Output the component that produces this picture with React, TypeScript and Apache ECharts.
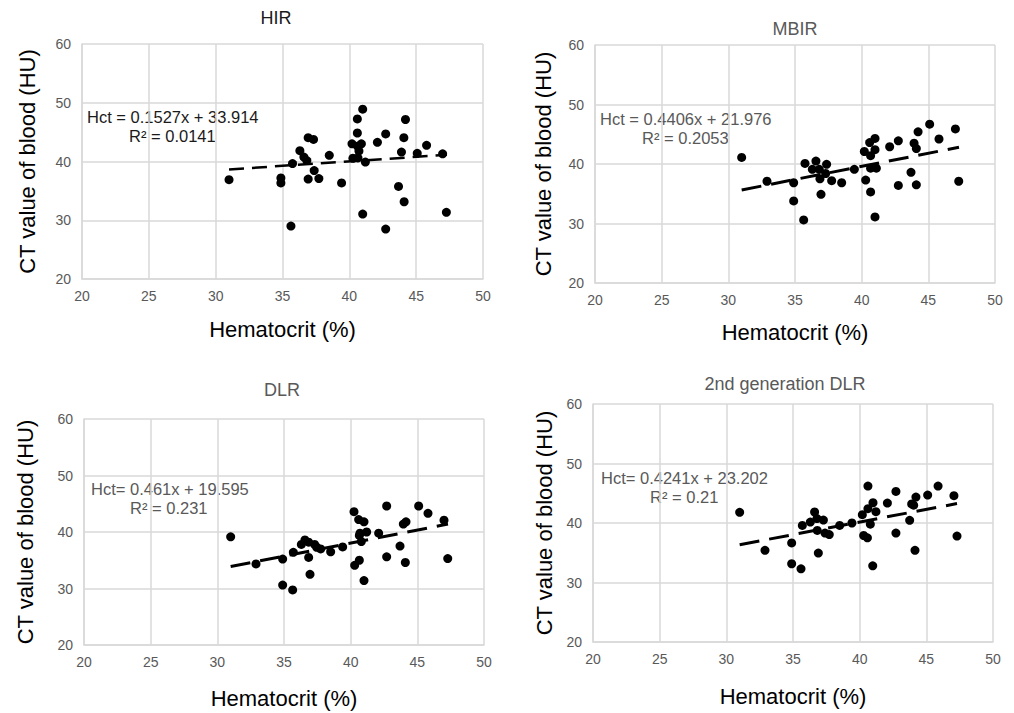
import React, { useEffect, useRef } from "react";
import * as echarts from "echarts";

const panelTitles = ["HIR", "MBIR", "DLR", "2nd generation DLR"];
const equationTexts = [
  "Hct = 0.1527x + 33.914",
  "Hct = 0.4406x + 21.976",
  "Hct= 0.461x + 19.595",
  "Hct= 0.4241x + 23.202",
];
const r2Texts = ["R² = 0.0141", "R² = 0.2053", "R² = 0.231", "R² = 0.21"];
const xAxisTitle = "Hematocrit (%)";
const yAxisTitle = "CT value of blood (HU)";
const xRange = [20, 50, 5];
const yRange = [20, 60, 10];

const hirPoints: [number, number][] = [
  [31.0, 36.9], [34.88, 37.2], [34.88, 36.35], [35.63, 29.0], [35.75, 39.65],
  [36.3, 41.85], [36.6, 40.75], [36.82, 40.15], [36.92, 44.05], [37.32, 43.75],
  [36.92, 37.0], [37.37, 38.45], [37.72, 37.1], [38.5, 41.05], [39.42, 36.35],
  [40.2, 43.0], [40.27, 40.55], [40.6, 47.25], [40.6, 44.85], [40.62, 42.6],
  [40.65, 40.6], [40.72, 41.8], [40.9, 43.0], [41.0, 48.9], [41.0, 31.05],
  [41.2, 39.9], [42.1, 43.27], [42.72, 44.7], [42.72, 28.5], [43.68, 35.75],
  [43.9, 41.6], [44.08, 44.05], [44.2, 47.15], [44.1, 33.15], [45.08, 41.4],
  [45.78, 42.75], [46.98, 41.3], [47.26, 31.35],
];
const mbirPoints: [number, number][] = [
  [31.0, 41.1], [32.9, 37.1], [34.9, 36.85], [34.9, 33.8], [35.65, 30.6],
  [35.75, 40.1], [36.3, 39.1], [36.57, 40.5], [36.82, 39.1], [36.87, 37.5],
  [36.95, 34.9], [37.3, 38.4], [37.37, 39.95], [37.75, 37.2], [38.5, 36.85],
  [39.45, 39.1], [40.2, 42.1], [40.3, 37.3], [40.6, 43.6], [40.67, 41.4],
  [40.67, 39.3], [40.67, 35.3], [41.0, 44.3], [41.0, 42.4], [41.1, 39.3],
  [41.0, 31.1], [42.1, 42.9], [42.75, 43.9], [42.75, 36.4], [43.7, 38.6],
  [43.93, 43.5], [44.1, 42.6], [44.23, 45.4], [44.1, 36.5], [45.1, 46.7],
  [45.8, 44.2], [47.03, 45.9], [47.28, 37.1],
];
const dlrPoints: [number, number][] = [
  [31.0, 39.15], [32.9, 34.35], [34.9, 35.2], [34.9, 30.6], [35.65, 29.75],
  [35.7, 36.4], [36.3, 37.8], [36.57, 38.6], [36.85, 38.2], [36.85, 35.5],
  [36.95, 32.5], [37.3, 37.8], [37.45, 37.3], [37.75, 37.0], [38.5, 36.5],
  [39.4, 37.35], [40.25, 43.6], [40.3, 34.1], [40.6, 42.2], [40.65, 35.0],
  [40.7, 39.8], [40.65, 39.4], [40.8, 38.3], [41.0, 41.8], [41.2, 40.0],
  [41.0, 31.4], [42.1, 39.8], [42.7, 44.6], [42.7, 35.6], [43.7, 37.5],
  [43.95, 41.4], [44.15, 41.8], [44.1, 34.6], [45.1, 44.6], [45.8, 43.3],
  [47.0, 42.1], [47.28, 35.3],
];
const dlr2Points: [number, number][] = [
  [31.0, 41.8], [32.9, 35.4], [34.9, 36.65], [34.9, 33.15], [35.6, 32.3],
  [35.7, 39.6], [36.3, 40.15], [36.62, 41.85], [36.8, 40.75], [37.28, 40.5],
  [36.82, 38.75], [37.4, 38.3], [37.72, 38.05], [36.9, 34.95], [38.5, 39.6],
  [39.42, 40.0], [40.2, 41.4], [40.3, 37.9], [40.62, 46.2], [40.62, 42.4],
  [40.58, 37.5], [40.8, 39.8], [41.0, 43.4], [41.22, 41.9], [40.98, 32.8],
  [42.08, 43.35], [42.72, 45.3], [42.72, 38.3], [43.75, 40.45], [43.9, 43.2],
  [44.05, 43.0], [44.22, 44.35], [44.15, 35.4], [45.1, 44.7], [45.88, 46.2],
  [47.07, 44.6], [47.3, 37.8],
];

// trendline end points (from the printed regression equations)
const hirTrend: [number, number][] = [[31.0, 38.648], [47.3, 41.137]];
const mbirTrend: [number, number][] = [[31.0, 35.635], [47.3, 42.816]];
const dlrTrend: [number, number][] = [[31.0, 33.886], [47.3, 41.40]];
const dlr2Trend: [number, number][] = [[31.0, 36.349], [47.3, 43.262]];

const allPoints = [hirPoints, mbirPoints, dlrPoints, dlr2Points];
const allTrends = [hirTrend, mbirTrend, dlrTrend, dlr2Trend];

const FONT = '"Liberation Sans", Arial, Helvetica, sans-serif';

// layout
const grids = [
  { left: 82, top: 44, width: 401, height: 235 },
  { left: 595, top: 45, width: 400, height: 238 },
  { left: 84, top: 419, width: 400, height: 226 },
  { left: 593, top: 404, width: 400, height: 238 },
];
const xNameGaps = [39, 38, 42, 43];
const yNameGaps = [44, 41, 48, 38];
const titlePos = [[276, 18], [795, 29], [282, 390], [785, 384]];
const eqPos = [[87, 117], [600, 119], [91, 489], [601, 478]];
const r2Pos = [[129, 136], [642, 138], [130, 508], [650, 497]];
const textColors = ["#1a1a1a", "#595959", "#595959", "#595959"];
const dashes = [[15, 8], [20, 10], [20, 10], [20, 10]];

export default function App() {
  const ref = useRef<HTMLDivElement>(null);
  useEffect(() => {
    if (!ref.current) return;
    const chart = echarts.init(ref.current, undefined, { renderer: "svg" });
    const gridColor = "#d9d9d9";
    const option: any = {
      animation: false,
      backgroundColor: "#ffffff",
      grid: grids.map((g) => ({ ...g, containLabel: false })),
      xAxis: grids.map((_, i) => ({
        gridIndex: i,
        type: "value",
        min: xRange[0],
        max: xRange[1],
        interval: xRange[2],
        name: xAxisTitle,
        nameLocation: "middle",
        nameGap: xNameGaps[i],
        nameTextStyle: { fontSize: 22, color: "#000000", fontFamily: FONT },
        axisLine: { show: true, lineStyle: { color: gridColor, width: 1.5 } },
        axisTick: { show: false },
        axisLabel: { color: "#595959", fontSize: 14, margin: 10, fontFamily: FONT },
        splitLine: { show: true, lineStyle: { color: gridColor, width: 1.5 } },
      })),
      yAxis: grids.map((_, i) => ({
        gridIndex: i,
        type: "value",
        min: yRange[0],
        max: yRange[1],
        interval: yRange[2],
        name: yAxisTitle,
        nameLocation: "middle",
        nameGap: yNameGaps[i],
        nameTextStyle: { fontSize: 22, color: "#000000", fontFamily: FONT },
        axisLine: { show: true, lineStyle: { color: gridColor, width: 1.5 } },
        axisTick: { show: false },
        axisLabel: { color: "#595959", fontSize: 14, margin: 11, fontFamily: FONT },
        splitLine: { show: true, lineStyle: { color: gridColor, width: 1.5 } },
      })),
      series: [
        ...allPoints.map((pts, i) => ({
          type: "scatter",
          xAxisIndex: i,
          yAxisIndex: i,
          data: pts,
          symbol: "circle",
          symbolSize: 9,
          itemStyle: { color: "#000000", opacity: 1 },
          z: 2,
        })),
        ...allTrends.map((tr, i) => ({
          type: "line",
          xAxisIndex: i,
          yAxisIndex: i,
          data: tr,
          symbol: "none",
          lineStyle: { color: "#000000", width: i === 0 ? 2.5 : 3, type: dashes[i] },
          z: 3,
        })),
      ],
      graphic: [
        ...panelTitles.map((t, i) => ({
          type: "text",
          x: titlePos[i][0],
          y: titlePos[i][1],
          style: {
            text: t,
            fill: textColors[i],
            fontSize: 18,
            fontFamily: FONT,
            align: "center",
            verticalAlign: "middle",
          },
        })),
        ...equationTexts.map((t, i) => ({
          type: "text",
          x: eqPos[i][0],
          y: eqPos[i][1],
          style: {
            text: t,
            fill: textColors[i],
            fontSize: 16.5,
            fontFamily: FONT,
            align: "left",
            verticalAlign: "middle",
          },
        })),
        ...r2Texts.map((t, i) => ({
          type: "text",
          x: r2Pos[i][0],
          y: r2Pos[i][1],
          style: {
            text: t,
            fill: textColors[i],
            fontSize: 16.5,
            fontFamily: FONT,
            align: "left",
            verticalAlign: "middle",
          },
        })),
      ],
    };
    chart.setOption(option);
    return () => chart.dispose();
  }, []);
  return (
    <div
      ref={ref}
      style={{ position: "fixed", left: 0, top: 0, width: 1014, height: 713, background: "#fff" }}
    />
  );
}
